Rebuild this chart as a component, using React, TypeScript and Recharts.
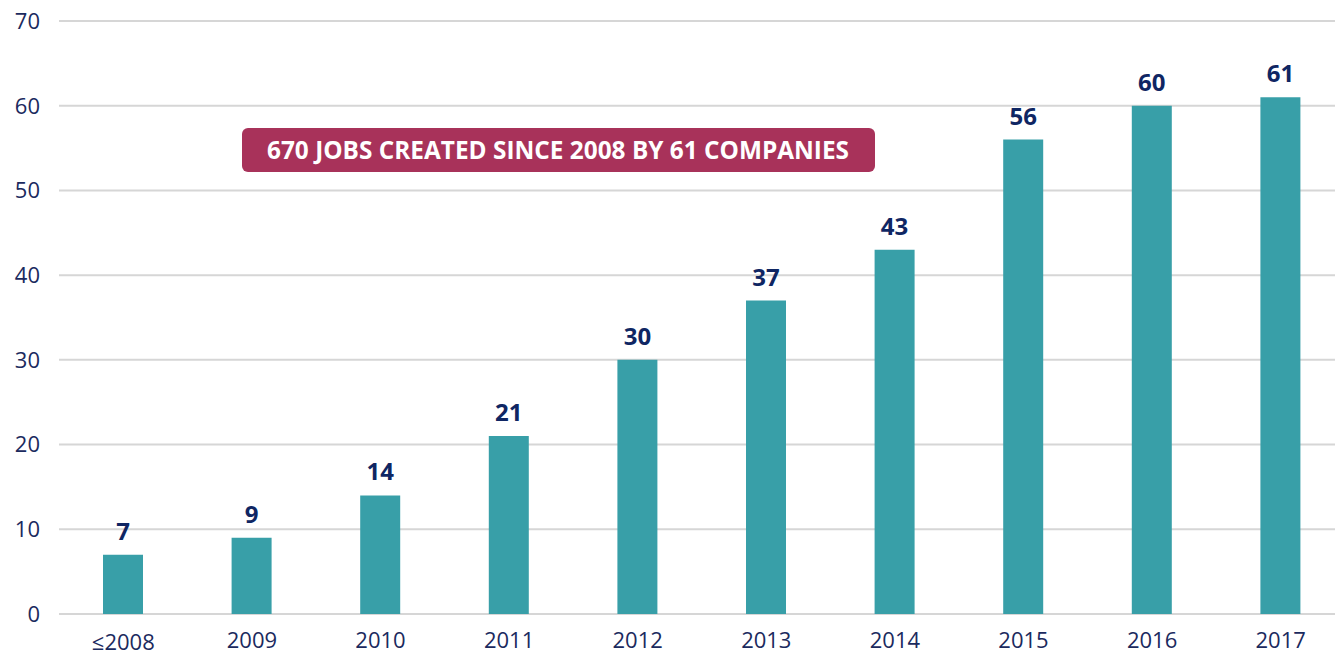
import { BarChart, Bar, XAxis, YAxis, CartesianGrid, LabelList } from 'recharts'

// dados
const years = ['≤2008', '2009', '2010', '2011', '2012', '2013', '2014', '2015', '2016', '2017']
const companies = [7, 9, 14, 21, 30, 37, 43, 56, 60, 61]
const yTicks = [0, 10, 20, 30, 40, 50, 60, 70]
const banner = '670 JOBS CREATED SINCE 2008 BY 61 COMPANIES'

const data = years.map((year, i) => ({ year, total: companies[i] }))

const NAVY = '#1b2a5e'
const FONT = '"Open Sans", "Noto Sans", sans-serif'

function XTick(props: { x?: number; y?: number; payload?: { value: string } }) {
  const { x = 0, y = 0, payload } = props
  if (!payload) return null
  // o "≤2008" fica um pouco mais baixo no original
  const low = payload.value.startsWith('≤')
  return (
    <text
      x={x}
      y={y}
      dy={low ? 28 : 26}
      textAnchor="middle"
      style={{ fontSize: 22, fill: NAVY, fontFamily: FONT }}
    >
      {payload.value}
    </text>
  )
}

function TopLabel(props: { x?: number; y?: number; width?: number; value?: number }) {
  const { x = 0, y = 0, width = 0, value = 0 } = props
  return (
    <text
      x={Number(x) + Number(width) / 2}
      y={Number(y) - 15}
      textAnchor="middle"
      style={{ fontSize: 24, fontWeight: 700, fill: '#0f2663', fontFamily: FONT }}
    >
      {value}
    </text>
  )
}

export default function App() {
  return (
    <div style={{ position: 'absolute', left: 0, top: 0, width: 1335, height: 655, overflow: 'hidden', background: '#fff' }}>
      <BarChart
        width={1345}
        height={655}
        data={data}
        margin={{ top: 21, right: 0, left: 0, bottom: 0 }}
      >
        <CartesianGrid vertical={false} stroke="#d6d6d6" strokeWidth={2} />
        <XAxis
          dataKey="year"
          height={41}
          tick={<XTick />}
          tickLine={false}
          axisLine={false}
          interval={0}
        />
        <YAxis
          width={59}
          domain={[0, 70]}
          ticks={yTicks}
          tickLine={false}
          axisLine={false}
          tickMargin={13}
          tick={{ fontSize: 22, fill: NAVY, fontFamily: FONT }}
        />
        <Bar dataKey="total" fill="#389fa8" barSize={40} isAnimationActive={false}>
          <LabelList dataKey="total" content={<TopLabel />} />
        </Bar>
      </BarChart>
      <svg style={{ position: 'absolute', left: 0, top: 0 }} width={1335} height={655} pointerEvents="none">
        <rect x={242} y={128} width={633} height={44} rx={6} fill="#a8325a" />
        <text
          x={558}
          y={159}
          textAnchor="middle"
          textLength={582}
          lengthAdjust="spacingAndGlyphs"
          style={{ fontSize: 25, fontWeight: 700, fill: '#fff', fontFamily: FONT }}
        >
          {banner}
        </text>
      </svg>
    </div>
  )
}
